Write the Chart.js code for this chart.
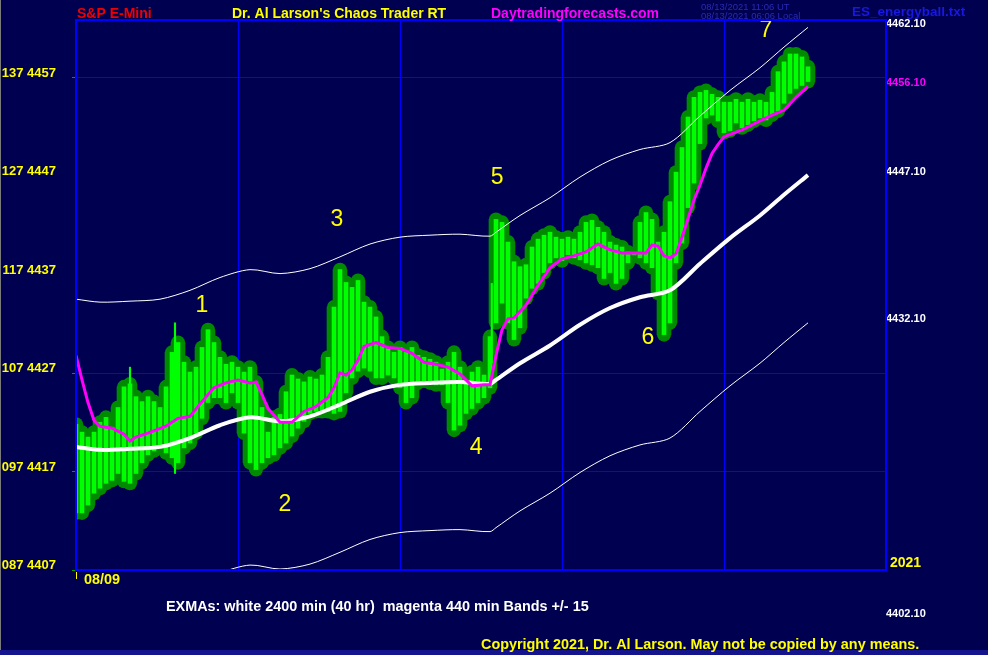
<!DOCTYPE html>
<html lang="en">
<head>
  <meta charset="UTF-8" />
  <title>S&amp;P E-Mini - Chaos Trader RT</title>
  <script src="https://cdn.jsdelivr.net/npm/chart.js"></script>
  <style>
    html, body { margin: 0; padding: 0; background: #000050; }
    #chart { display: block; }
  </style>
</head>
<body>
  <canvas id="chart" width="988" height="655"></canvas>

  <script>
    // price bars, one every bar slot (x = slot index)
    const highs = [
      4421.8, 4421.0, 4420.5, 4421.0, 4422.0, 4422.5, 4421.5, 4423.5, 4425.6, 4425.9,
      4424.6, 4424.1, 4424.6, 4424.1, 4423.5, 4425.6, 4429.1, 4430.1, 4428.1, 4427.1,
      4427.6, 4429.6, 4431.4, 4430.1, 4428.6, 4427.9, 4428.1, 4427.6, 4427.1, 4427.6,
      4426.1, 4423.5, 4421.0, 4422.5, 4422.8, 4425.1, 4426.8, 4426.4, 4426.1, 4426.6,
      4426.4, 4426.8, 4428.6, 4433.7, 4437.5, 4436.2, 4435.7, 4436.4, 4434.2, 4433.7,
      4432.7, 4430.7, 4429.6, 4429.1, 4429.6, 4429.1, 4429.6, 4428.8, 4428.6, 4428.4,
      4428.1, 4427.4, 4428.1, 4429.1, 4427.6, 4425.9, 4427.1, 4427.6, 4426.8, 4430.7,
      4442.6, 4442.3, 4440.3, 4438.3, 4437.8, 4438.0, 4439.8, 4440.6, 4441.0, 4441.3,
      4440.8, 4440.6, 4440.8, 4440.6, 4441.3, 4442.3, 4442.5, 4441.8, 4441.3, 4440.3,
      4440.0, 4439.8, 4439.3, 4439.1, 4442.3, 4443.3, 4442.6, 4440.3, 4441.3, 4444.4,
      4447.4, 4449.9, 4453.0, 4455.0, 4455.5, 4455.7, 4455.3, 4455.0, 4454.5, 4454.5,
      4454.8, 4454.5, 4454.8, 4454.5, 4454.7, 4454.5, 4455.5, 4457.6, 4458.6, 4459.4,
      4459.4, 4459.1, 4458.1
    ];
    const lows = [
      4412.8, 4412.8, 4413.6, 4414.8, 4415.3, 4415.8, 4416.1, 4416.8, 4416.0, 4415.8,
      4416.8, 4417.9, 4418.7, 4419.1, 4419.4, 4418.9, 4418.4, 4417.9, 4419.4, 4419.9,
      4420.9, 4422.4, 4424.0, 4424.5, 4424.5, 4424.0, 4425.0, 4424.0, 4420.9, 4417.9,
      4417.2, 4417.9, 4418.4, 4418.7, 4419.4, 4419.9, 4420.6, 4421.4, 4422.1, 4422.9,
      4423.1, 4423.1, 4423.1, 4422.9, 4423.1, 4425.0, 4426.5, 4427.2, 4427.5, 4427.2,
      4426.5, 4426.5, 4426.8, 4426.5, 4425.5, 4424.0, 4424.5, 4426.0, 4426.2, 4426.0,
      4425.8, 4425.8, 4424.0, 4421.2, 4421.7, 4422.9, 4423.4, 4424.0, 4424.5, 4425.5,
      4432.1, 4434.1, 4432.1, 4430.4, 4431.6, 4434.6, 4435.6, 4436.1, 4437.2, 4438.2,
      4438.7, 4438.4, 4439.0, 4438.7, 4438.5, 4438.2, 4438.0, 4437.7, 4436.6, 4437.2,
      4436.1, 4436.6, 4438.2, 4439.0, 4438.7, 4438.2, 4437.7, 4435.1, 4430.9, 4432.1,
      4438.2, 4440.2, 4443.8, 4446.3, 4450.3, 4452.9, 4453.2, 4452.6, 4451.4, 4451.6,
      4452.4, 4451.9, 4452.2, 4452.6, 4452.9, 4452.7, 4453.2, 4453.6, 4454.4, 4455.4,
      4455.9, 4456.2, 4456.6
    ];

    // thin single-tick spikes
    const spikeX = [9, 16.5, 69.3];
    const spikeLow = [4419.9, 4416.8, 4428.0];
    const spikeHigh = [4427.6, 4432.1, 4436.1];

    // white 2400 min EXMA and its +/- 15 bands
    const emaX = [0, 4, 9, 14, 19, 24, 29, 34, 39, 44, 49, 54, 59, 64, 69, 70, 74, 79, 84, 89, 94, 99, 104, 109, 114, 118, 122];
    const emaWhite = [4419.5, 4419.2, 4419.3, 4419.5, 4420.4, 4421.7, 4422.5, 4422.1, 4422.6, 4423.8, 4425.1, 4425.8, 4426.0, 4426.1, 4425.9, 4426.3, 4428.0, 4429.8, 4431.9, 4433.6, 4434.7, 4435.4, 4438.1, 4440.7, 4443.0, 4445.1, 4447.1];
    const bandUpper = [4434.5, 4434.2, 4434.3, 4434.5, 4435.4, 4436.7, 4437.5, 4437.1, 4437.6, 4438.8, 4440.1, 4440.8, 4441.0, 4441.1, 4440.9, 4441.3, 4443.0, 4444.8, 4446.9, 4448.6, 4449.7, 4450.4, 4453.1, 4455.7, 4458.0, 4460.1, 4462.1];
    const bandLower = [4404.5, 4404.2, 4404.3, 4404.5, 4405.4, 4406.7, 4407.5, 4407.1, 4407.6, 4408.8, 4410.1, 4410.8, 4411.0, 4411.1, 4410.9, 4411.3, 4413.0, 4414.8, 4416.9, 4418.6, 4419.7, 4420.4, 4423.1, 4425.7, 4428.0, 4430.1, 4432.1];

    // magenta 440 min EXMA
    const magX = [0, 1, 2, 3, 4, 6, 8, 9, 10, 12, 15, 17, 19, 21, 23, 25, 27, 29, 30, 31, 32, 34, 36, 38, 40, 42, 43, 44, 45, 46, 47, 48, 50, 52, 54, 56, 58, 60, 62, 64, 66, 68, 69, 70, 71, 72, 73, 75, 77, 79, 81, 83, 85, 87, 89, 91, 93, 95, 96, 97, 98, 99, 100, 101, 102, 103, 104, 105, 106, 107, 108, 111, 114, 116, 118, 120, 122];
    const emaMagenta = [4428.8, 4426.3, 4424.0, 4422.2, 4421.6, 4421.4, 4420.8, 4420.1, 4420.5, 4420.9, 4421.6, 4422.4, 4422.6, 4424.1, 4425.5, 4426.0, 4426.3, 4426.0, 4426.1, 4424.8, 4423.4, 4422.0, 4422.0, 4423.1, 4423.6, 4424.5, 4425.5, 4427.0, 4426.8, 4427.3, 4428.3, 4429.7, 4430.1, 4429.6, 4429.5, 4429.0, 4428.1, 4427.9, 4427.6, 4426.9, 4425.7, 4425.8, 4425.8, 4428.8, 4431.4, 4432.5, 4432.6, 4433.9, 4435.9, 4437.7, 4438.6, 4438.9, 4439.3, 4440.1, 4439.5, 4439.2, 4439.2, 4439.2, 4440.0, 4439.9, 4438.9, 4438.7, 4439.1, 4440.8, 4442.7, 4444.6, 4446.1, 4447.8, 4449.3, 4450.2, 4451.0, 4451.7, 4452.6, 4453.2, 4453.7, 4455.0, 4456.1];

    // axes
    const yMin = 4407, yMax = 4462.85;
    const yTickValues = [4407, 4417, 4427, 4437, 4447, 4457];
    const yTickLabels = ['087 4407', '097 4417', '107 4427', '117 4437', '127 4447', '137 4457'];
    const yGridValues = [4417, 4427, 4457];
    const rightTickValues = [4432.1, 4447.1, 4456.1, 4462.1];
    const dayLines = [0, 27, 54, 81, 108, 135];

    // turn point numbers
    const markLabels = ['1', '2', '3', '4', '5', '6', '7'];
    const markX = [21, 34.8, 43.5, 66.7, 70.2, 95.3, 115];
    const markY = [4433.8, 4413.6, 4442.6, 4419.4, 4446.8, 4430.6, 4461.8];

    const sans = "'Liberation Sans', Arial, sans-serif";
    const darkGreen = '#008a00';
    const brightGreen = '#00ff00';

    const pts = (xs, ys) => xs.map((x, i) => ({ x, y: ys[i] }));
    const ranges = (xs, lo, hi) => xs.map((x, i) => ({ x, y: [lo[i], hi[i]] }));
    const slots = highs.map((_, i) => i);
    const noPad = axis => { axis.paddingTop = 0; axis.paddingBottom = 0; axis.paddingLeft = 0; axis.paddingRight = 0; };

    const chaosText = {
      id: 'chaosText',
      beforeDraw(chart) {
        const ctx = chart.ctx;
        ctx.save();
        ctx.fillStyle = '#000050';
        ctx.fillRect(0, 0, chart.width, chart.height);
        ctx.fillStyle = '#7a7a7a';
        ctx.fillRect(0, 0, 1, chart.height);
        ctx.fillStyle = '#14148c';
        ctx.fillRect(0, chart.height - 5, chart.width, 5);
        ctx.restore();
      },
      afterDatasetsDraw(chart) {
        const ctx = chart.ctx;
        const xs = chart.scales.x, ys = chart.scales.y;
        ctx.save();
        ctx.fillStyle = '#ffff00';
        ctx.font = '23px ' + sans;
        ctx.textAlign = 'center';
        ctx.textBaseline = 'middle';
        markLabels.forEach((t, i) => {
          ctx.fillText(t, xs.getPixelForValue(markX[i]), ys.getPixelForValue(markY[i]));
        });
        ctx.restore();
      },
      afterDraw(chart) {
        const ctx = chart.ctx;
        const a = chart.chartArea;
        ctx.save();
        // frame
        ctx.strokeStyle = '#0000ff';
        ctx.lineWidth = 2;
        ctx.strokeRect(a.left, a.top, a.right - a.left, a.bottom - a.top);
        ctx.fillStyle = '#ffff00';
        ctx.fillRect(a.left, a.bottom + 2, 1, 7);

        ctx.textAlign = 'left';
        ctx.textBaseline = 'alphabetic';
        ctx.font = 'bold 14px ' + sans;
        ctx.fillStyle = '#ee0000';
        ctx.fillText('S&P E-Mini', 77, 18);
        ctx.fillStyle = '#ffff00';
        ctx.fillText("Dr. Al Larson's Chaos Trader RT", 232, 18);
        ctx.fillStyle = '#ff00ff';
        ctx.fillText('Daytradingforecasts.com', 491, 18);
        ctx.fillStyle = '#1818e0';
        ctx.font = 'bold 13.5px ' + sans;
        ctx.fillText('ES_energyball.txt', 852, 16);

        ctx.font = '9.5px ' + sans;
        ctx.fillStyle = '#2a2ab4';
        ctx.fillText('08/13/2021 11:06 UT', 701, 9.5);
        ctx.fillText('08/13/2021 06:06 Local', 701, 19);

        ctx.font = 'bold 14.4px ' + sans;
        ctx.fillStyle = '#ffff00';
        ctx.fillText('08/09', 84, 584);
        ctx.fillStyle = '#ffffff';
        ctx.fillText('EXMAs: white 2400 min (40 hr)  magenta 440 min Bands +/- 15', 166, 611);
        ctx.fillStyle = '#ffff00';
        ctx.fillText('Copyright 2021, Dr. Al Larson. May not be copied by any means.', 481, 649);

        ctx.font = 'bold 14px ' + sans;
        ctx.fillText('2021', 890, 567);
        ctx.font = 'bold 11px ' + sans;
        ctx.fillStyle = '#ffffff';
        ctx.fillText('4402.10', 886, 617);
        ctx.restore();
      }
    };

    new Chart(document.getElementById('chart'), {
      type: 'bar',
      data: {
        datasets: [
          {
            label: 'range',
            data: ranges(slots, lows, highs),
            backgroundColor: darkGreen,
            barThickness: 14,
            grouped: false,
            order: 10
          },
          {
            type: 'line',
            label: 'high cap',
            data: pts(slots, highs),
            showLine: false,
            pointRadius: 7,
            pointBorderWidth: 0,
            pointBackgroundColor: darkGreen,
            order: 9
          },
          {
            type: 'line',
            label: 'low cap',
            data: pts(slots, lows),
            showLine: false,
            pointRadius: 7,
            pointBorderWidth: 0,
            pointBackgroundColor: darkGreen,
            order: 9
          },
          {
            label: 'ticks',
            data: ranges(slots, lows, highs),
            backgroundColor: brightGreen,
            barThickness: 4,
            grouped: false,
            order: 8
          },
          {
            label: 'spikes',
            data: ranges(spikeX, spikeLow, spikeHigh),
            backgroundColor: brightGreen,
            barThickness: 1.5,
            grouped: false,
            order: 7
          },
          {
            type: 'line',
            label: 'upper band',
            data: pts(emaX, bandUpper),
            borderColor: '#ffffff',
            borderWidth: 1,
            pointRadius: 0,
            tension: 0.3,
            order: 5
          },
          {
            type: 'line',
            label: 'lower band',
            data: pts(emaX, bandLower),
            borderColor: '#ffffff',
            borderWidth: 1,
            pointRadius: 0,
            tension: 0.3,
            order: 5
          },
          {
            type: 'line',
            label: 'white 2400 min',
            data: pts(emaX, emaWhite),
            borderColor: '#ffffff',
            borderWidth: 4,
            pointRadius: 0,
            tension: 0.3,
            order: 4
          },
          {
            type: 'line',
            label: 'magenta 440 min',
            data: pts(magX, emaMagenta),
            borderColor: '#ff00ff',
            borderWidth: 3,
            pointRadius: 0,
            order: 3
          }
        ]
      },
      options: {
        responsive: false,
        animation: false,
        events: [],
        layout: { padding: { top: 20, left: 0, right: 0, bottom: 0 } },
        plugins: {
          legend: { display: false },
          tooltip: { enabled: false }
        },
        scales: {
          x: {
            type: 'linear',
            min: 0,
            max: 135,
            offset: false,
            afterBuildTicks: axis => { axis.ticks = dayLines.map(v => ({ value: v })); },
            afterFit: axis => { axis.height = 85; noPad(axis); },
            ticks: { display: false },
            grid: { offset: false, color: '#0000ff', lineWidth: 1, drawTicks: false },
            border: { display: false }
          },
          y: {
            position: 'left',
            min: yMin,
            max: yMax,
            afterBuildTicks: axis => { axis.ticks = yTickValues.map(v => ({ value: v })); },
            afterFit: axis => { axis.width = 76; noPad(axis); },
            ticks: {
              autoSkip: false,
              padding: 16,
              labelOffset: -4.5,
              color: '#ffff00',
              font: { family: sans, size: 13, weight: 'bold' },
              callback: (v, i) => yTickLabels[i]
            },
            grid: {
              color: c => yGridValues.includes(c.tick.value) ? '#0a2e0a' : 'rgba(0,0,0,0)',
              tickColor: c => c.tick.value === 4437 || c.tick.value === 4447 ? 'rgba(0,0,0,0)' : '#00a000',
              tickLength: 4,
              lineWidth: 1
            },
            border: { display: false }
          },
          y2: {
            position: 'right',
            min: yMin,
            max: yMax,
            afterBuildTicks: axis => { axis.ticks = rightTickValues.map(v => ({ value: v })); },
            afterFit: axis => { axis.width = 102; noPad(axis); },
            ticks: {
              autoSkip: false,
              padding: 0,
              labelOffset: -3.5,
              color: c => c.tick.value === 4456.1 ? '#ff00ff' : '#ffffff',
              font: { family: sans, size: 11, weight: 'bold' },
              callback: v => v.toFixed(2)
            },
            grid: { drawOnChartArea: false, drawTicks: false },
            border: { display: false }
          }
        }
      },
      plugins: [chaosText]
    });
  </script>
</body>
</html>
